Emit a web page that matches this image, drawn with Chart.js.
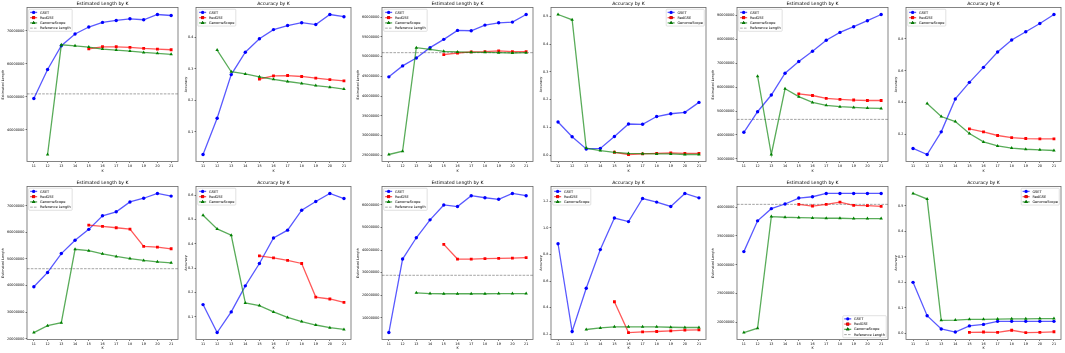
<!DOCTYPE html>
<html><head><meta charset="utf-8">
<script src="https://cdn.jsdelivr.net/npm/chart.js@4.4.1/dist/chart.umd.min.js"></script>
<style>
html,body{margin:0;padding:0;background:#fff;}
#wrap{position:relative;width:1065px;height:353px;overflow:hidden;background:#fff}
canvas{position:absolute;display:block}
</style></head><body><div id="wrap"></div>
<script>
// ---------- data ----------
const K = ['11','12','13','14','15','16','17','18','19','20','21'];
const N = null;

// figure A (top-left)
const lenA_GSET   = [49.5e6, 58.3e6, 65.5e6, 69.1e6, 71.2e6, 72.6e6, 73.2e6, 73.7e6, 73.4e6, 75.0e6, 74.7e6];
const lenA_RedGSE = [N, N, N, N, 64.6e6, 65.2e6, 65.2e6, 65.0e6, 64.7e6, 64.5e6, 64.3e6];
const lenA_GS     = [N, 32.5e6, 65.8e6, 65.5e6, 65.1e6, 64.5e6, 64.2e6, 63.9e6, 63.5e6, 63.2e6, 62.9e6];
const refA = 50.9e6;
const accA_GSET   = [0.028, 0.143, 0.282, 0.353, 0.396, 0.425, 0.438, 0.447, 0.441, 0.473, 0.466];
const accA_RedGSE = [N, N, N, N, 0.268, 0.278, 0.279, 0.276, 0.271, 0.266, 0.262];
const accA_GS     = [N, 0.360, 0.291, 0.284, 0.275, 0.267, 0.260, 0.254, 0.247, 0.242, 0.236];
const lenA_ticks = [40e6, 50e6, 60e6, 70e6];
const accA_ticks = [0.1, 0.2, 0.3, 0.4];

// figure B (top-middle)
const lenB_GSET   = [44.87e6, 47.65e6, 49.66e6, 52.27e6, 54.37e6, 56.64e6, 56.55e6, 57.98e6, 58.57e6, 58.74e6, 60.67e6];
const lenB_RedGSE = [N, N, N, N, 50.5e6, 50.92e6, 51.18e6, 51.26e6, 51.43e6, 51.26e6, 51.26e6];
const lenB_GS     = [25.2e6, 26.05e6, 52.27e6, 51.85e6, 51.34e6, 51.18e6, 51.09e6, 51.09e6, 51.0e6, 50.92e6, 51.0e6];
const refB = 51.0e6;
const accB_GSET   = [0.119, 0.066, 0.022, 0.024, 0.067, 0.112, 0.111, 0.139, 0.149, 0.154, 0.190];
const accB_RedGSE = [N, N, N, N, 0.010, 0.002, 0.004, 0.006, 0.008, 0.006, 0.006];
const accB_GS     = [0.507, 0.488, 0.025, 0.016, 0.010, 0.006, 0.005, 0.004, 0.004, 0.002, 0.002];
const lenB_ticks = [25e6, 30e6, 35e6, 40e6, 45e6, 50e6, 55e6, 60e6];
const accB_ticks = [0.0, 0.1, 0.2, 0.3, 0.4, 0.5];

// figure C (top-right)
const lenC_GSET   = [41.1e6, 49.7e6, 56.7e6, 65.8e6, 70.7e6, 75.0e6, 79.6e6, 82.9e6, 85.3e6, 87.8e6, 90.4e6];
const lenC_RedGSE = [N, N, N, N, 57.2e6, 56.5e6, 55.3e6, 54.9e6, 54.6e6, 54.4e6, 54.4e6];
const lenC_GS     = [N, 64.6e6, 31.8e6, 59.3e6, 56.0e6, 53.6e6, 52.4e6, 51.8e6, 51.5e6, 51.25e6, 51.1e6];
const refC = 46.5e6;
const accC_GSET   = [0.113, 0.075, 0.217, 0.423, 0.527, 0.621, 0.717, 0.792, 0.844, 0.896, 0.952];
const accC_RedGSE = [N, N, N, N, 0.235, 0.217, 0.194, 0.181, 0.175, 0.173, 0.173];
const accC_GS     = [N, 0.394, 0.313, 0.281, 0.206, 0.154, 0.129, 0.115, 0.108, 0.104, 0.100];
const lenC_ticks = [30e6, 40e6, 50e6, 60e6, 70e6, 80e6, 90e6];
const accC_ticks = [0.2, 0.4, 0.6, 0.8];

// figure D (bottom-left)
const lenD_GSET   = [39.5e6, 44.9e6, 52.0e6, 57.0e6, 61.1e6, 66.2e6, 67.7e6, 71.4e6, 72.8e6, 74.6e6, 73.6e6];
const lenD_RedGSE = [N, N, N, N, 62.7e6, 62.2e6, 61.7e6, 61.2e6, 54.7e6, 54.4e6, 53.8e6];
const lenD_GS     = [22.3e6, 24.9e6, 26.0e6, 53.6e6, 53.1e6, 51.9e6, 50.9e6, 50.1e6, 49.4e6, 48.9e6, 48.5e6];
const refD = 46.3e6;
const accD_GSET   = [0.150, 0.035, 0.120, 0.227, 0.319, 0.424, 0.456, 0.538, 0.574, 0.607, 0.586];
const accD_RedGSE = [N, N, N, N, 0.350, 0.342, 0.332, 0.319, 0.181, 0.173, 0.159];
const accD_GS     = [0.517, 0.461, 0.435, 0.157, 0.146, 0.120, 0.097, 0.080, 0.066, 0.055, 0.048];
const lenD_ticks = [20e6, 30e6, 40e6, 50e6, 60e6, 70e6];
const accD_ticks = [0.1, 0.2, 0.3, 0.4, 0.5, 0.6];

// figure E (bottom-middle)
const lenE_GSET   = [3.4e6, 36.0e6, 45.45e6, 53.4e6, 60.0e6, 59.3e6, 64.1e6, 63.2e6, 62.5e6, 65.1e6, 64.1e6];
const lenE_RedGSE = [N, N, N, N, 42.5e6, 36.0e6, 36.0e6, 36.2e6, 36.3e6, 36.45e6, 36.6e6];
const lenE_GS     = [N, N, 21.0e6, 20.7e6, 20.6e6, 20.6e6, 20.6e6, 20.6e6, 20.7e6, 20.7e6, 20.7e6];
const refE = 28.8e6;
const accE_GSET   = [0.881, 0.220, 0.546, 0.837, 1.075, 1.048, 1.222, 1.195, 1.162, 1.260, 1.227];
const accE_RedGSE = [N, N, N, N, 0.444, 0.212, 0.217, 0.220, 0.225, 0.230, 0.232];
const accE_GS     = [N, N, 0.235, 0.247, 0.255, 0.255, 0.255, 0.255, 0.252, 0.250, 0.250];
const lenE_ticks = [10e6, 20e6, 30e6, 40e6, 50e6, 60e6];
const accE_ticks = [0.2, 0.4, 0.6, 0.8, 1.0, 1.2];

// figure F (bottom-right)
const lenF_GSET   = [32.26e6, 37.6e6, 39.71e6, 40.52e6, 41.55e6, 41.78e6, 42.35e6, 42.35e6, 42.35e6, 42.35e6, 42.35e6];
const lenF_RedGSE = [N, N, N, N, 40.46e6, 40.17e6, 40.46e6, 40.86e6, 40.29e6, 40.23e6, 40.11e6];
const lenF_GS     = [18.22e6, 18.97e6, 38.34e6, 38.22e6, 38.17e6, 38.11e6, 38.05e6, 38.05e6, 37.99e6, 37.99e6, 37.99e6];
const refF = 40.46e6;
const accF_GSET   = [0.200, 0.069, 0.017, 0.005, 0.029, 0.035, 0.047, 0.047, 0.047, 0.047, 0.047];
const accF_RedGSE = [N, N, N, N, 0.004, 0.005, 0.004, 0.012, 0.003, 0.004, 0.006];
const accF_GS     = [0.549, 0.527, 0.051, 0.052, 0.055, 0.055, 0.056, 0.057, 0.057, 0.058, 0.058];
const lenF_ticks = [20e6, 25e6, 30e6, 35e6, 40e6];
const accF_ticks = [0.0, 0.1, 0.2, 0.3, 0.4, 0.5];

const SERIES = ['GSET', 'RedGSE', 'GenomeScope'];

// ---------- style ----------
const FAM = '"DejaVu Sans", sans-serif';
const TICK_F = 3.4, LAB_F = 3.4, LEG_F = 3.5, TITLE_F = 4.6;
const STY = [
  {line:'rgba(0,0,255,0.65)', pt:'#0000ff', style:'circle', r:1.7},
  {line:'rgba(255,0,0,0.65)', pt:'#ff0000', style:'rect', r:2.0},
  {line:'rgba(0,128,0,0.65)', pt:'#008000', style:'triangle', r:2.0}
];

const ROWS = [
  {y:0, h:176, top:7.5, bottom:161.5},
  {y:176, h:177, top:10.5, bottom:163.5}
];

const panels = [
  {col:0,row:0,kind:'len',s:[lenA_GSET,lenA_RedGSE,lenA_GS],ref:refA,ticks:lenA_ticks,leg:'ul'},
  {col:0,row:0,kind:'acc',s:[accA_GSET,accA_RedGSE,accA_GS],ticks:accA_ticks,leg:'ul'},
  {col:1,row:0,kind:'len',s:[lenB_GSET,lenB_RedGSE,lenB_GS],ref:refB,ticks:lenB_ticks,leg:'ul'},
  {col:1,row:0,kind:'acc',s:[accB_GSET,accB_RedGSE,accB_GS],ticks:accB_ticks,leg:'ur'},
  {col:2,row:0,kind:'len',s:[lenC_GSET,lenC_RedGSE,lenC_GS],ref:refC,ticks:lenC_ticks,leg:'ul'},
  {col:2,row:0,kind:'acc',s:[accC_GSET,accC_RedGSE,accC_GS],ticks:accC_ticks,leg:'ul'},
  {col:0,row:1,kind:'len',s:[lenD_GSET,lenD_RedGSE,lenD_GS],ref:refD,ticks:lenD_ticks,leg:'ul'},
  {col:0,row:1,kind:'acc',s:[accD_GSET,accD_RedGSE,accD_GS],ticks:accD_ticks,leg:'ul'},
  {col:1,row:1,kind:'len',s:[lenE_GSET,lenE_RedGSE,lenE_GS],ref:refE,ticks:lenE_ticks,leg:'ul'},
  {col:1,row:1,kind:'acc',s:[accE_GSET,accE_RedGSE,accE_GS],ticks:accE_ticks,leg:'ul'},
  {col:2,row:1,kind:'len',s:[lenF_GSET,lenF_RedGSE,lenF_GS],ref:refF,ticks:lenF_ticks,leg:'lr'},
  {col:2,row:1,kind:'acc',s:[accF_GSET,accF_RedGSE,accF_GS],ticks:accF_ticks,leg:'ur'}
];

function yLimits(series, ref) {
  const vals = [];
  series.forEach(a => a.forEach(v => { if (v !== null) vals.push(v); }));
  if (ref != null) vals.push(ref);
  const lo = Math.min(...vals), hi = Math.max(...vals), m = (hi - lo) * 0.05;
  return [lo - m, hi + m];
}

const wrap = document.getElementById('wrap');

function makePanel(p) {
  const R = ROWS[p.row];
  const fx = p.col * 355;
  const isLen = p.kind === 'len';
  const cLeft = fx + (isLen ? 0 : 182);
  const cW = isLen ? 182 : 173;
  const frameL = isLen ? 27 : 14;
  const frameR = isLen ? 179 : 171;
  const cv = document.createElement('canvas');
  cv.width = cW; cv.height = R.h;
  cv.style.left = cLeft + 'px'; cv.style.top = R.y + 'px';
  cv.style.width = cW + 'px'; cv.style.height = R.h + 'px';
  wrap.appendChild(cv);
  const [ymin, ymax] = yLimits(p.s, p.ref);
  const font = s => ({family: FAM, size: s});

  const deco = {
    id: 'deco',
    beforeDatasetsDraw(chart) {
      if (p.ref == null) return;
      const ctx = chart.ctx, ca = chart.chartArea;
      const y = chart.scales.y.getPixelForValue(p.ref);
      ctx.save();
      ctx.strokeStyle = 'rgba(128,128,128,0.9)';
      ctx.lineWidth = 0.8;
      ctx.setLineDash([2.6, 1.2]);
      ctx.beginPath(); ctx.moveTo(ca.left, y); ctx.lineTo(ca.right, y); ctx.stroke();
      ctx.restore();
    },
    afterDraw(chart) {
      const ctx = chart.ctx, ca = chart.chartArea;
      ctx.save();
      ctx.strokeStyle = 'rgba(0,0,0,0.6)';
      ctx.lineWidth = 0.8;
      ctx.strokeRect(ca.left, ca.top, ca.right - ca.left, ca.bottom - ca.top);
      ctx.fillStyle = '#000';
      ctx.font = TITLE_F + 'px ' + FAM;
      ctx.textAlign = 'center'; ctx.textBaseline = 'alphabetic';
      ctx.fillText(isLen ? 'Estimated Length by K' : 'Accuracy by K', (ca.left + ca.right) / 2, ca.top - 2.6);
      const f = LEG_F;
      ctx.font = f + 'px ' + FAM;
      const entries = chart.data.datasets.map((ds, i) => ({label: ds.label, line: ds.borderColor, st: STY[i]}));
      if (p.ref != null) entries.push({label: 'Reference Length', line: 'rgba(128,128,128,0.9)', dash: true});
      const tw = Math.max(...entries.map(e => ctx.measureText(e.label).width));
      const pad = 0.4 * f, hl = 2 * f, htp = 0.8 * f, ls = 0.5 * f, rowH = f;
      const w = pad * 2 + hl + htp + tw;
      const h = pad * 2 + entries.length * rowH + (entries.length - 1) * ls;
      const bap = 0.5 * f;
      let x0, y0;
      if (p.leg === 'ul') { x0 = ca.left + bap; y0 = ca.top + bap; }
      else if (p.leg === 'ur') { x0 = ca.right - bap - w; y0 = ca.top + bap; }
      else { x0 = ca.right - bap - w; y0 = ca.bottom - bap - h; }
      ctx.beginPath();
      if (ctx.roundRect) ctx.roundRect(x0, y0, w, h, 0.8); else ctx.rect(x0, y0, w, h);
      ctx.fillStyle = 'rgba(255,255,255,0.8)'; ctx.fill();
      ctx.strokeStyle = '#cccccc'; ctx.lineWidth = 0.6; ctx.stroke();
      entries.forEach((e, i) => {
        const cy = y0 + pad + i * (rowH + ls) + rowH / 2;
        const lx = x0 + pad;
        ctx.save();
        ctx.strokeStyle = e.line; ctx.lineWidth = e.dash ? 0.8 : 1.3;
        if (e.dash) ctx.setLineDash([2.6, 1.2]);
        ctx.beginPath(); ctx.moveTo(lx, cy); ctx.lineTo(lx + hl, cy); ctx.stroke();
        ctx.restore();
        if (e.st) {
          Chart.helpers.drawPoint(ctx, {pointStyle: e.st.style, radius: e.st.r, rotation: 0, borderWidth: 0}, lx + hl / 2, cy);
          ctx.fillStyle = e.st.pt; ctx.fill();
        }
        ctx.fillStyle = '#000'; ctx.textAlign = 'left'; ctx.textBaseline = 'middle';
        ctx.fillText(e.label, lx + hl + htp, cy + 0.2);
      });
      ctx.restore();
    }
  };

  new Chart(cv, {
    type: 'line',
    data: {
      labels: K,
      datasets: p.s.map((arr, i) => ({
        label: SERIES[i], data: arr,
        borderColor: STY[i].line, borderWidth: 1.3,
        pointStyle: STY[i].style, pointRadius: STY[i].r,
        pointBackgroundColor: STY[i].pt, pointBorderColor: STY[i].pt, pointBorderWidth: 0,
        fill: false, tension: 0, order: 3 - i
      }))
    },
    options: {
      responsive: false, animation: false, devicePixelRatio: 1,
      layout: {padding: {top: R.top, right: cW - frameR, left: 0, bottom: 0}},
      plugins: {legend: {display: false}, title: {display: false}, tooltip: {enabled: false}},
      events: [],
      scales: {
        x: {
          type: 'category', offset: true,
          grid: {display: true, drawOnChartArea: false, drawTicks: true, tickLength: 1.5, color: '#000', lineWidth: 0.5},
          border: {display: false},
          ticks: {font: font(TICK_F), color: '#000', padding: 1.2, maxRotation: 0, autoSkip: false},
          title: {display: true, text: 'K', font: font(LAB_F), color: '#000', padding: {top: 0, bottom: 2.4}},
          afterFit: s => { s.height = R.h - R.bottom; s.paddingLeft = 0; s.paddingRight = 0; s.paddingTop = 0; s.paddingBottom = 0; }
        },
        y: {
          type: 'linear', min: ymin, max: ymax,
          afterBuildTicks: s => { s.ticks = p.ticks.map(v => ({value: v})); },
          grid: {display: true, drawOnChartArea: false, drawTicks: true, tickLength: 1.5, color: '#000', lineWidth: 0.5},
          border: {display: false},
          ticks: {font: font(TICK_F), color: '#000', padding: 1.2,
            callback: v => isLen ? String(Math.round(v)) : Number(v).toFixed(1)},
          title: {display: true, text: isLen ? 'Estimated Length' : 'Accuracy', font: font(LAB_F), color: '#000', padding: {top: isLen ? 1.4 : 2, bottom: 0}},
          afterFit: s => { s.width = frameL; s.paddingLeft = 0; s.paddingRight = 0; s.paddingTop = 0; s.paddingBottom = 0; }
        }
      }
    },
    plugins: [deco]
  });
}

panels.forEach(makePanel);
</script>
</body></html>
